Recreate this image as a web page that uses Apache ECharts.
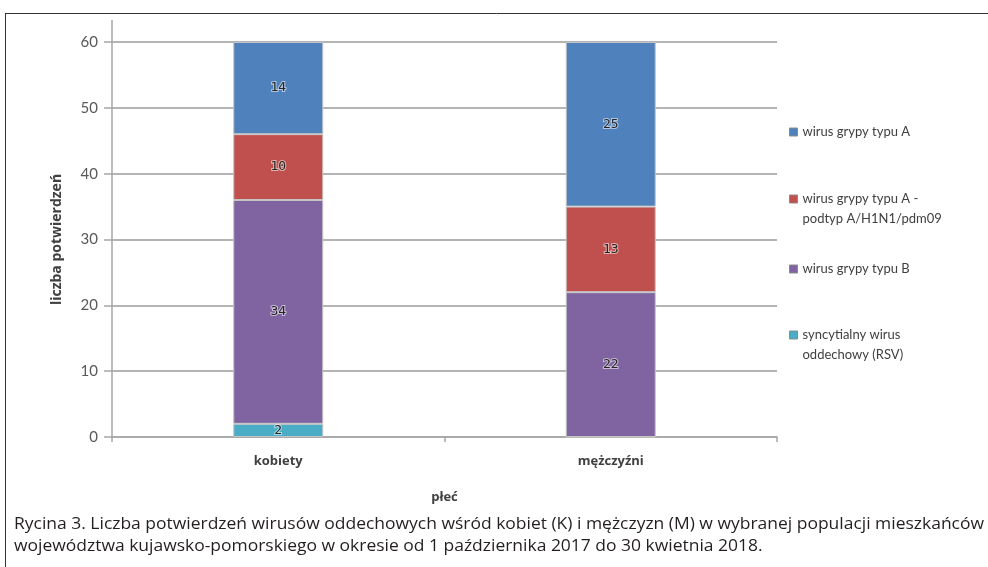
<!DOCTYPE html>
<html>
<head>
<meta charset="utf-8">
<script src="https://cdn.jsdelivr.net/npm/echarts@6/dist/echarts.min.js"></script>
<style>
  html, body { margin: 0; padding: 0; background: #ffffff; }
  #chart { width: 988px; height: 567px; }
</style>
</head>
<body>
<div id="chart"></div>
<script>
// Categories (x axis) and stacked counts, bottom to top
const categories = ['kobiety', 'mężczyźni'];
const nameRSV  = 'syncytialny wirus oddechowy (RSV)';
const nameB    = 'wirus grypy typu B';
const nameH1N1 = 'wirus grypy typu A - podtyp A/H1N1/pdm09';
const nameA    = 'wirus grypy typu A';
const valuesRSV  = [2, 0];
const valuesB    = [34, 22];
const valuesH1N1 = [10, 13];
const valuesA    = [14, 25];

// Value axis range
const yMin = 0;
const yMax = 60;
const yStep = 10;

const captionLines = [
  'Rycina 3. Liczba potwierdzeń wirusów oddechowych wśród kobiet (K) i mężczyzn (M) w wybranej populacji mieszkańców',
  'województwa kujawsko-pomorskiego w okresie od 1 października 2017 do 30 kwietnia 2018.'
];

const legendLabels = {};
legendLabels[nameA] = 'wirus grypy typu A';
legendLabels[nameH1N1] = 'wirus grypy typu A -\npodtyp A/H1N1/pdm09';
legendLabels[nameB] = 'wirus grypy typu B';
legendLabels[nameRSV] = 'syncytialny wirus\noddechowy (RSV)';

const colors = {};
colors[nameRSV] = '#4BACC6';
colors[nameB] = '#8064A2';
colors[nameH1N1] = '#C0504D';
colors[nameA] = '#4F81BD';

const uiFont = '"Open Sans", Lato, sans-serif';

const chart = echarts.init(document.getElementById('chart'), null, { renderer: 'canvas' });

// Caption font is condensed; fit it horizontally to the frame width
const captionFont = '16px "Open Sans"';
const ctx = document.createElement('canvas').getContext('2d');
ctx.font = captionFont;
const captionScale = 970 / ctx.measureText(captionLines[0]).width;

function makeSeries(name, data) {
  return {
    name: name,
    type: 'bar',
    stack: 'total',
    barWidth: 90,
    data: data,
    itemStyle: { color: colors[name], borderColor: '#c4c4c4', borderWidth: 1 },
    label: {
      show: true,
      position: 'inside',
      formatter: p => (p.value ? String(p.value) : ''),
      fontFamily: '"DejaVu Sans Mono", monospace',
      fontSize: 13,
      color: '#262626',
      textBorderColor: 'rgba(255,255,255,0.55)',
      textBorderWidth: 2
    },
    emphasis: { disabled: true }
  };
}

// Two-line entries: the swatch sits beside the first text line, so the
// icon path carries an empty tail that stretches it to the text block height.
const tallSwatch = 'path://M0,0L8,0L8,8L0,8Z M0,28L0,28Z';

function makeLegend(name, top, twoLines) {
  return {
    data: [name],
    orient: 'vertical',
    left: 789,
    top: top,
    padding: 0,
    icon: twoLines ? tallSwatch : 'rect',
    itemWidth: 8,
    itemHeight: twoLines ? 28 : 8,
    itemGap: 0,
    selectedMode: false,
    itemStyle: { borderColor: '#8a8a8a', borderWidth: 1 },
    formatter: n => legendLabels[n],
    textStyle: {
      fontFamily: 'Lato, "Open Sans", sans-serif',
      fontSize: 13,
      color: '#404040',
      lineHeight: 20
    }
  };
}

const option = {
  animation: false,
  backgroundColor: '#ffffff',
  grid: { left: 112, right: 211, top: 42, bottom: 130, containLabel: false },
  legend: [
    makeLegend(nameA, 122, false),
    makeLegend(nameH1N1, 189, true),
    makeLegend(nameB, 259, false),
    makeLegend(nameRSV, 325, true)
  ],
  xAxis: {
    type: 'category',
    data: categories,
    name: 'płeć',
    nameLocation: 'middle',
    nameGap: 54,
    nameTextStyle: { fontFamily: uiFont, fontSize: 13, fontWeight: 'bold', color: '#404040' },
    axisLine: { lineStyle: { color: '#a6a6a6', width: 1.5 } },
    axisTick: { show: true, length: 5, lineStyle: { color: '#a6a6a6', width: 1.5 } },
    axisLabel: { margin: 18, fontFamily: uiFont, fontSize: 13, fontWeight: 'bold', color: '#404040' }
  },
  yAxis: {
    type: 'value',
    min: yMin,
    max: yMax,
    interval: yStep,
    name: 'liczba potwierdzeń',
    nameLocation: 'middle',
    nameGap: 48,
    nameRotate: 90,
    nameTextStyle: { fontFamily: uiFont, fontSize: 14, fontWeight: 'bold', color: '#404040' },
    axisLine: { show: true, lineStyle: { color: '#a6a6a6', width: 1.5 } },
    axisTick: { show: true, length: 8, lineStyle: { color: '#a6a6a6', width: 1.5 } },
    axisLabel: { margin: 14, fontFamily: 'Lato, "Open Sans", sans-serif', fontSize: 15, color: '#595959' },
    splitLine: { lineStyle: { color: '#b4b4b4', width: 2 } }
  },
  series: [
    makeSeries(nameRSV, valuesRSV),
    makeSeries(nameB, valuesB),
    makeSeries(nameH1N1, valuesH1N1),
    makeSeries(nameA, valuesA)
  ],
  graphic: [
    // figure frame
    { type: 'line', silent: true, shape: { x1: 5, y1: 13.5, x2: 988, y2: 13.5 }, style: { stroke: '#333333', lineWidth: 1 } },
    { type: 'line', silent: true, shape: { x1: 5.5, y1: 13, x2: 5.5, y2: 567 }, style: { stroke: '#333333', lineWidth: 1 } },
    // value axis continues a little above the top gridline
    { type: 'line', silent: true, shape: { x1: 112, y1: 20, x2: 112, y2: 42 }, style: { stroke: '#a6a6a6', lineWidth: 1.5 } },
    {
      type: 'text', left: 14, top: 516, scaleX: captionScale, silent: true,
      style: { text: captionLines[0], font: captionFont, fill: '#231f20' }
    },
    {
      type: 'text', left: 14, top: 538, scaleX: captionScale, silent: true,
      style: { text: captionLines[1], font: captionFont, fill: '#231f20' }
    }
  ]
};

chart.setOption(option);
</script>
</body>
</html>
